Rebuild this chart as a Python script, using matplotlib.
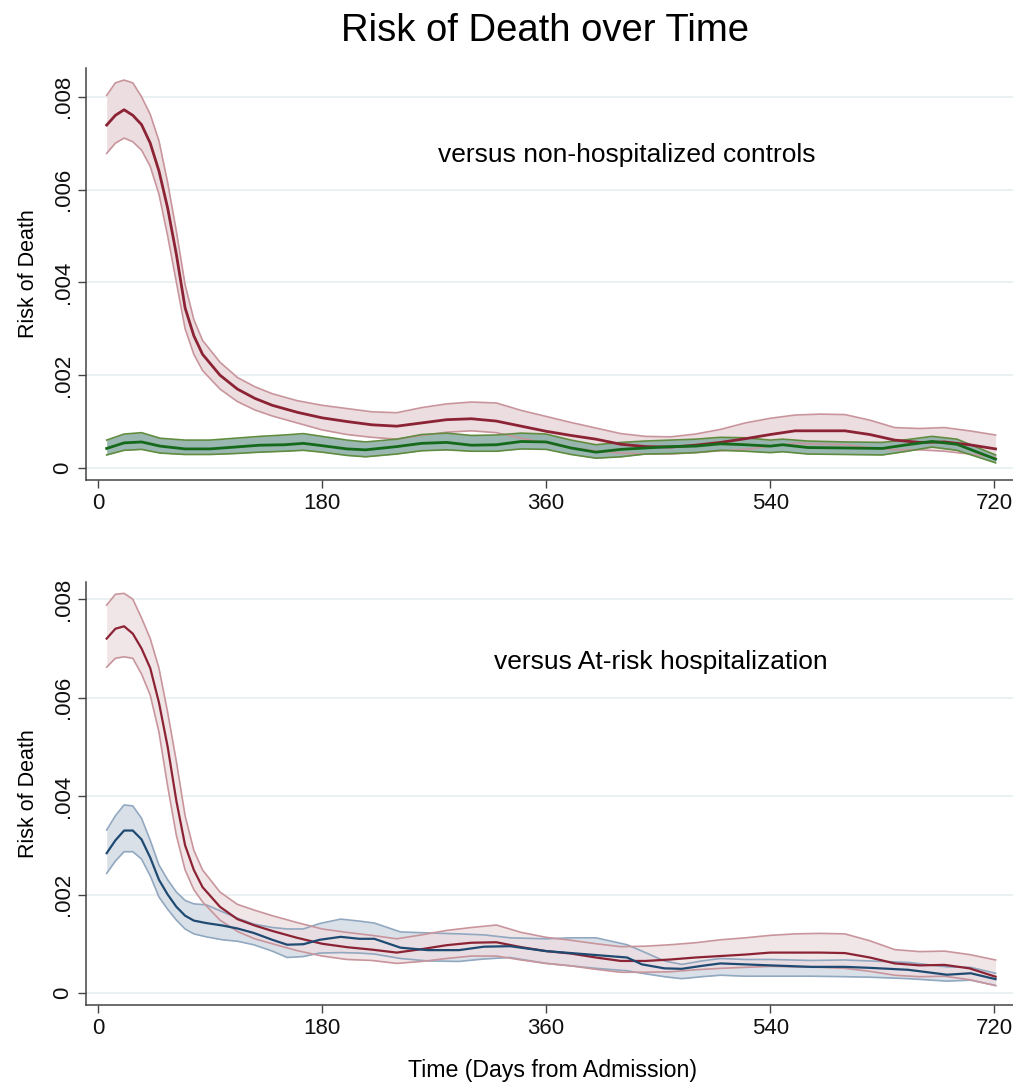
import matplotlib
matplotlib.use("Agg")
import matplotlib.pyplot as plt
from matplotlib.ticker import FixedLocator

plt.rcParams['font.family'] = ['Liberation Sans', 'DejaVu Sans']

# ---------------- data: top panel (versus non-hospitalized controls) ----------------
top_red_days = [7, 14, 21, 28, 35, 42, 49, 56, 63, 70, 77, 84, 98, 112, 126, 140, 160, 180,
                200, 220, 240, 260, 280, 300, 320, 340, 360, 380, 400, 420, 440, 460, 480,
                500, 520, 540, 560, 580, 600, 620, 640, 660, 680, 700, 721]
top_red_mean = [.00739, .0076, .00772, .0076, .0074, .0070, .0064, .0056, .0046, .00345, .00285,
                .00245, .00200, .00170, .00150, .00135, .00120, .00108, .00100, .00093, .00090,
                .00097, .00104, .00106, .00101, .00090, .00079, .00070, .00062, .00051, .00046,
                .00045, .00049, .00055, .00063, .00072, .00080, .00080, .00080, .00072, .00060,
                .00055, .00056, .00050, .00041]
top_red_upper = [.00803, .0083, .00836, .0083, .0080, .00762, .00705, .00615, .0051, .00395,
                 .0032, .00275, .00228, .00195, .00175, .00160, .00145, .00135, .00128, .00121,
                 .00119, .00130, .00138, .00142, .00140, .00124, .00111, .00098, .00086, .00074,
                 .00068, .00067, .00073, .00083, .00097, .00107, .00114, .00116, .00115, .00103,
                 .00087, .00085, .00087, .00080, .00071]
top_red_lower = [.00678, .0070, .00711, .00703, .00685, .0065, .0059, .0050, .0040, .0030,
                 .00245, .0021, .0017, .00143, .00125, .00112, .00097, .00082, .00072, .00066,
                 .00062, .00070, .00077, .00080, .00076, .00064, .00054, .00043, .00037, .00032,
                 .0003, .0003, .00033, .00037, .0004, .00047, .00053, .00051, .0005, .00044,
                 .00039, .00039, .00036, .0003, .00023]

top_green_days = [7, 21, 35, 50, 70, 90, 110, 130, 150, 165, 180, 200, 215, 240, 260, 280, 300,
                  320, 340, 360, 380, 400, 420, 440, 460, 480, 500, 520, 540, 550, 570, 600,
                  630, 650, 670, 690, 721]
top_green_mean = [.00042, .00054, .00056, .00047, .00041, .00041, .00045, .00049, .00050, .00053,
                  .00048, .00041, .00039, .00046, .00053, .00055, .00049, .00050, .00057, .00056,
                  .00043, .00034, .00040, .00043, .00046, .00047, .00052, .00050, .00047, .0005,
                  .00044, .00043, .00042, .00050, .00057, .00051, .00019]
top_green_upper = [.0006, .00073, .00076, .00064, .0006, .0006, .00064, .00068, .00071, .00074,
                   .00068, .0006, .00056, .00062, .00072, .00075, .0007, .00071, .00075, .00073,
                   .0006, .0005, .00055, .00058, .0006, .00062, .00066, .00065, .0006, .00062,
                   .00058, .00056, .00055, .00061, .00068, .00062, .00028]
top_green_lower = [.00028, .00038, .0004, .00032, .00029, .00029, .00031, .00034, .00036, .00038,
                   .00034, .00027, .00024, .0003, .00037, .00039, .00036, .00036, .00041, .0004,
                   .00029, .00021, .00024, .0003, .00031, .00033, .00038, .00036, .00033, .00035,
                   .0003, .00029, .00028, .00036, .00045, .00038, .00011]

# ---------------- data: bottom panel (versus at-risk hospitalization) ----------------
bot_red_days = top_red_days
bot_red_mean = [.0072, .0074, .00745, .0073, .0070, .0066, .0059, .0050, .0039, .0030, .0025,
                .00215, .00175, .00150, .00137, .00126, .00112, .00100, .00093, .00088, .00082,
                .00089, .00097, .00102, .00103, .00093, .00085, .00080, .00072, .00065, .00065,
                .00068, .00072, .00075, .00078, .00082, .00082, .00082, .00081, .00072, .00060,
                .00056, .00057, .00050, .00033]
bot_red_upper = [.00788, .0081, .00812, .0080, .00762, .0072, .0066, .0057, .0047, .0036, .0029,
                 .0025, .00205, .00180, .00168, .00157, .00143, .00130, .00123, .00117, .00110,
                 .00118, .00127, .00133, .00138, .00123, .00113, .00107, .00100, .00094, .00095,
                 .00098, .00102, .00108, .00112, .00117, .00120, .00121, .00120, .00106, .00088,
                 .00084, .00085, .00078, .00067]
bot_red_lower = [.00662, .0068, .00683, .0068, .00648, .00605, .0053, .0042, .0032, .0025, .0021,
                 .00185, .00148, .00125, .00110, .00100, .00086, .00075, .00068, .00066, .00060,
                 .00064, .00070, .00075, .00075, .00067, .00060, .00055, .00048, .00042, .00042,
                 .00043, .00047, .00050, .00052, .00054, .00053, .00052, .00050, .00044, .00036,
                 .00033, .00034, .00027, .00015]

bot_blue_days = [7, 14, 21, 28, 35, 42, 49, 56, 63, 70, 77, 87, 100, 112, 125, 140, 152, 165,
                 178, 195, 210, 222, 243, 265, 290, 310, 331, 360, 380, 400, 425, 437, 455, 469,
                 485, 500, 520, 540, 573, 600, 620, 651, 682, 701, 721]
bot_blue_mean = [.00284, .0031, .0033, .0033, .00312, .00275, .0023, .0020, .00175, .00157,
                 .00147, .00142, .00137, .00131, .00122, .00108, .00098, .00099, .00108, .00114,
                 .0011, .0011, .00092, .00087, .00087, .00094, .00095, .00085, .00081, .00077,
                 .00072, .00058, .0005, .00049, .00055, .0006, .00058, .00056, .00053, .00053,
                 .00051, .00047, .00037, .0004, .00028]
bot_blue_upper = [.00331, .0036, .00382, .0038, .00355, .0031, .0026, .0023, .00205, .00188,
                  .00181, .00179, .00165, .00152, .00140, .00133, .00130, .0013, .00141, .0015,
                  .00146, .00142, .00124, .00122, .00120, .00118, .00112, .00110, .00112, .00112,
                  .00098, .00085, .00065, .00058, .00065, .0007, .00068, .00068, .00066, .00067,
                  .00065, .00062, .00053, .00052, .0004]
bot_blue_lower = [.00243, .00268, .00287, .00287, .00272, .00238, .00195, .0017, .00148, .0013,
                  .0012, .00114, .00108, .00105, .00098, .00085, .00072, .00074, .00081, .00082,
                  .00081, .00079, .0007, .00065, .00064, .00069, .00072, .0006, .00055, .0005,
                  .00045, .0004, .00033, .00029, .00033, .00036, .00034, .00034, .00034, .00033,
                  .00032, .00029, .00024, .00026, .00015]

x_ticks = [0, 180, 360, 540, 720]
y_ticks = [0, .002, .004, .006, .008]
y_ticklabels = ['0', '.002', '.004', '.006', '.008']

title = "Risk of Death over Time"
top_note = "versus non-hospitalized controls"
bot_note = "versus At-risk hospitalization"

# ---------------- styles ----------------
RED = '#8c2334'
RED_FILL = '#ecdde0'
RED_EDGE = '#c9959c'
GREEN = '#15691a'
GREEN_FILL = '#8fb0a9'
GREEN_EDGE = '#5f8c3f'
BLUE = '#1f4a72'
BLUE_FILL = '#d9e0e8'
BLUE_EDGE = '#91a8c0'
GRID = '#e8f0f1'
AXC = '#444444'

W, H = 1013, 1085
fig = plt.figure(figsize=(W / 100, H / 100), dpi=100)
fig.patch.set_facecolor('white')


def px_rect(l, t, r, b):
    return [l / W, 1 - b / H, (r - l) / W, (b - t) / H]


def band(ax, d, lo, hi, fill, edge, alpha=1.0):
    ax.fill_between(d, lo, hi, color=fill, alpha=alpha, lw=0, zorder=2)
    ax.plot(d, lo, color=edge, lw=1.2, zorder=3)
    ax.plot(d, hi, color=edge, lw=1.2, zorder=3)


def style(ax, ylim):
    ax.set_xlim(-9.6, 735)
    ax.set_ylim(*ylim)
    ax.xaxis.set_major_locator(FixedLocator(x_ticks))
    ax.set_yticks(y_ticks)
    ax.set_yticklabels(y_ticklabels, rotation=90, va='center')
    for s in ['top', 'right']:
        ax.spines[s].set_visible(False)
    for s in ['left', 'bottom']:
        ax.spines[s].set_color(AXC)
        ax.spines[s].set_linewidth(1.1)
    ax.tick_params(axis='both', direction='out', length=6, width=1.0, color=AXC,
                   labelsize=16, labelcolor='#111111')
    ax.tick_params(axis='y', pad=3)
    ax.tick_params(axis='x', pad=3)
    ax.yaxis.grid(True, color=GRID, lw=1.3, zorder=0)
    ax.set_axisbelow(True)
    ax.set_ylabel("Risk of Death", fontsize=15.5, labelpad=10)


# top panel
ax1 = fig.add_axes(px_rect(86, 68, 1013, 480))
band(ax1, top_red_days, top_red_lower, top_red_upper, RED_FILL, RED_EDGE)
band(ax1, top_green_days, top_green_lower, top_green_upper, GREEN_FILL, GREEN_EDGE, alpha=0.9)
ax1.plot(top_red_days, top_red_mean, color=RED, lw=2.0, zorder=4)
ax1.plot(top_green_days, top_green_mean, color=GREEN, lw=2.0, zorder=5)
style(ax1, (-0.00026, 0.00862))
ax1.text(425, 0.00674, top_note, ha='center', va='center', fontsize=19)

# bottom panel
ax2 = fig.add_axes(px_rect(86, 582, 1013, 1005))
band(ax2, bot_blue_days, bot_blue_lower, bot_blue_upper, BLUE_FILL, BLUE_EDGE)
band(ax2, bot_red_days, bot_red_lower, bot_red_upper, RED_FILL, RED_EDGE, alpha=0.75)
ax2.plot(bot_blue_days, bot_blue_mean, color=BLUE, lw=1.6, zorder=5)
ax2.plot(bot_red_days, bot_red_mean, color=RED, lw=1.6, zorder=4)
style(ax2, (-0.000245, 0.00835))
ax2.text(452, 0.00672, bot_note, ha='center', va='center', fontsize=19)

fig.text(545 / W, 1 - 31 / H, title, ha='center', va='center', fontsize=27.5)
fig.text(553 / W, 1 - 1071 / H, "Time (Days from Admission)", ha='center', va='center',
         fontsize=16.7)

fig.savefig("out.png", dpi=100, facecolor='white')
